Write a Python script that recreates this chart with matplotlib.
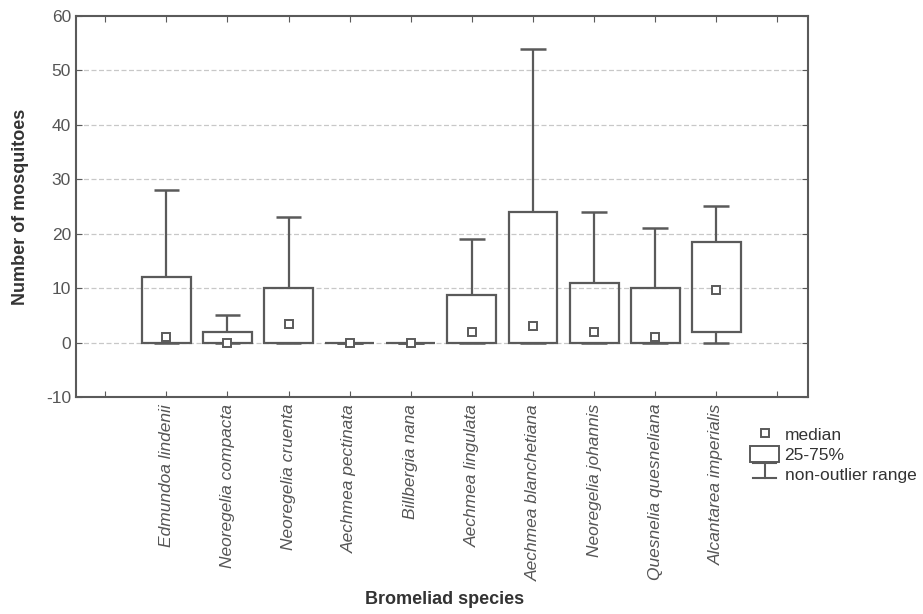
import matplotlib
matplotlib.use("Agg")
import matplotlib.pyplot as plt
from matplotlib.lines import Line2D
from matplotlib.patches import Rectangle
from matplotlib.legend_handler import HandlerBase

plt.rcParams["font.family"] = ["Liberation Sans", "DejaVu Sans"]
plt.rcParams["axes.unicode_minus"] = False

# box plot summary per bromeliad species
species = ["Edmundoa lindenii", "Neoregelia compacta", "Neoregelia cruenta",
           "Aechmea pectinata", "Billbergia nana", "Aechmea lingulata",
           "Aechmea blanchetiana", "Neoregelia johannis",
           "Quesnelia quesneliana", "Alcantarea imperialis"]
medians = [1, 0, 3.5, 0, 0, 2, 3, 2, 1, 9.7]
q1 = [0, 0, 0, 0, 0, 0, 0, 0, 0, 2]
q3 = [12, 2, 10, 0, 0, 8.7, 24, 11, 10, 18.4]
wmin = [0, 0, 0, 0, 0, 0, 0, 0, 0, 0]
wmax = [28, 5, 23, 0, 0, 19, 54, 24, 21, 25]

col = "#5a5a5a"
pos = list(range(1, len(species) + 1))

fig = plt.figure(figsize=(9.23, 6.14), dpi=100)
ax = fig.add_axes([0.0823, 0.3534, 0.7930, 0.6206])

for yy in range(0, 60, 10):
    ax.axhline(yy, color="#c8c8c8", lw=0.9, ls=(0, (4, 2)), zorder=0)

heights = [b - a for a, b in zip(q1, q3)]
ax.bar(pos, heights, bottom=q1, width=0.8, fill=False, edgecolor=col,
       linewidth=1.6, zorder=2)
# upper and lower whiskers with caps
ax.vlines(pos, q3, wmax, color=col, lw=1.6, zorder=2)
ax.vlines(pos, wmin, q1, color=col, lw=1.6, zorder=2)
ax.hlines(wmax, [p - 0.21 for p in pos], [p + 0.21 for p in pos], color=col, lw=1.8, zorder=2)
ax.hlines(wmin, [p - 0.21 for p in pos], [p + 0.21 for p in pos], color=col, lw=1.8, zorder=2)
ax.plot(pos, medians, ls="none", marker="s", ms=6, mfc="white", mec=col, mew=1.4, zorder=3)

ax.set_xlim(-0.48, 11.5)
ax.set_ylim(-10, 60)
ax.set_yticks(range(-10, 61, 10))
ax.set_xticks(range(0, 12))
ax.set_xticklabels([""] + species + [""], rotation=90, style="italic",
                   color="#444444")
ax.tick_params(axis="both", direction="in", top=True, right=True, length=4,
               color=col, labelsize=12.5, labelcolor="#555555")
ax.tick_params(axis="x", labelsize=12.5, pad=5)
for s in ax.spines.values():
    s.set_color(col)
    s.set_linewidth(1.5)

ax.set_ylabel("Number of mosquitoes", fontsize=13, fontweight="bold", color="#333333", labelpad=12)
ax.set_xlabel("Bromeliad species", fontsize=13, fontweight="bold", color="#333333")
ax.xaxis.set_label_coords(0.503, -0.508)


class WhiskerHandler(HandlerBase):
    def create_artists(self, legend, orig, xd, yd, w, h, fontsize, trans):
        cx = xd + w / 2
        a = Line2D([xd + w * 0.1, xd + w * 0.9], [yd + h, yd + h], color=col, lw=1.5, transform=trans)
        b = Line2D([xd + w * 0.1, xd + w * 0.9], [yd, yd], color=col, lw=1.5, transform=trans)
        c = Line2D([cx, cx], [yd, yd + h], color=col, lw=1.5, transform=trans)
        return [a, b, c]


h_med = Line2D([], [], ls="none", marker="s", ms=6, mfc="white", mec=col, mew=1.4)
h_box = Rectangle((0, 0), 1, 1, fill=False, edgecolor=col, lw=1.4)
h_wh = Line2D([], [])
fig.legend([h_med, h_box, h_wh], ["median", "25-75%", "non-outlier range"],
           handler_map={h_wh: WhiskerHandler()},
           loc="upper left", bbox_to_anchor=(0.803, 0.32), frameon=False,
           fontsize=12.5, handlelength=1.7, handleheight=1.0, labelspacing=0.2,
           handletextpad=0.3, borderpad=0, labelcolor="#333333")

fig.savefig("out.png", dpi=100)
